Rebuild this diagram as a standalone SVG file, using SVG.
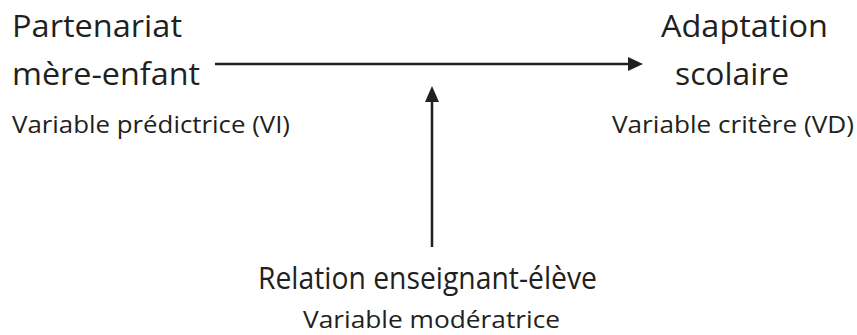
<svg xmlns="http://www.w3.org/2000/svg" width="857" height="335" viewBox="0 0 857 335">
<style>
.big{font-family:"Open Sans","Liberation Sans",sans-serif;font-size:31px;fill:#231f20}
.small{font-family:"Open Sans","Liberation Sans",sans-serif;font-size:24px;fill:#231f20}
.conn{stroke:#231f20;stroke-width:2.5;fill:none}
</style>
<rect width="857" height="335" fill="#fff"/>
<g id="connectors">
<line class="conn" x1="215" y1="64" x2="628" y2="64"/>
<path d="M628,57 L643,64 L628,71 Z" fill="#231f20"/>
<line class="conn" x1="432" y1="247" x2="432" y2="101"/>
<path d="M425,102 L432,86 L439,102 Z" fill="#231f20"/>
</g>
<g id="vi">
<text class="big" x="12" y="37" textLength="170" lengthAdjust="spacingAndGlyphs">Partenariat</text>
<text class="big" x="12" y="85" textLength="188" lengthAdjust="spacingAndGlyphs">mère-enfant</text>
<text class="small" x="12" y="133" textLength="278" lengthAdjust="spacingAndGlyphs">Variable prédictrice (VI)</text>
</g>
<g id="vd">
<text class="big" x="661" y="37" textLength="167" lengthAdjust="spacingAndGlyphs">Adaptation</text>
<text class="big" x="675" y="85" textLength="114" lengthAdjust="spacingAndGlyphs">scolaire</text>
<text class="small" x="612" y="133" textLength="242" lengthAdjust="spacingAndGlyphs">Variable critère (VD)</text>
</g>
<g id="moderateur">
<text class="big" x="258" y="289" textLength="339" lengthAdjust="spacingAndGlyphs">Relation enseignant-élève</text>
<text class="small" x="303" y="328" textLength="257" lengthAdjust="spacingAndGlyphs">Variable modératrice</text>
</g>
</svg>
